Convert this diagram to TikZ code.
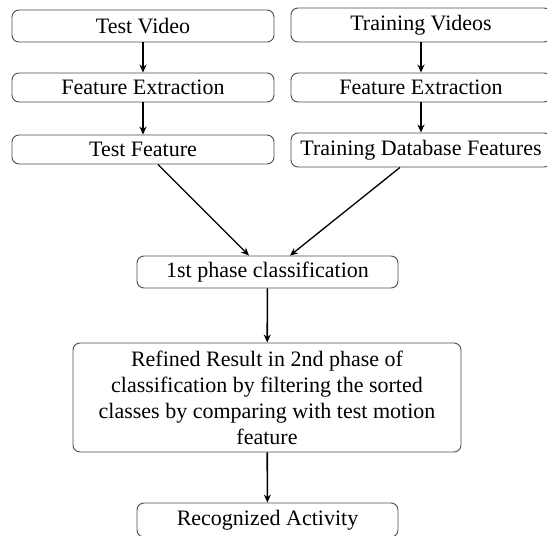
\documentclass[tikz,border=0pt]{standalone}
\usepackage{fontspec}
\setmainfont{Liberation Serif}
\usetikzlibrary{arrows.meta,calc}
\begin{document}
\begin{tikzpicture}[x=1pt,y=-1pt,
  box/.style={draw=black!70,line width=0.9pt,rounded corners=7pt,inner sep=2pt,
    font=\fontsize{22}{26}\selectfont,align=center},
  arr/.style={line width=1.6pt,-{Stealth[length=8pt,width=7pt]}},
  darr/.style={line width=1.3pt,-{Stealth[length=8pt,width=7pt]}}]
\useasboundingbox (0,0) rectangle (547,536);
\begin{scope}
\clip (0,0) rectangle (547,536);
\node[box,minimum width=262pt,minimum height=32pt] (tv) at (143,26) {Test Video};
\node[box,minimum width=260pt,minimum height=34pt] (trv) at (421,25) {Training Videos};
\node[box,minimum width=262pt,minimum height=29pt] (fe1) at (143,87.5) {Feature Extraction};
\node[box,minimum width=260pt,minimum height=29pt] (fe2) at (421,87.5) {Feature Extraction};
\node[box,minimum width=262pt,minimum height=29pt] (tf) at (143,149.5) {Test Feature};
\node[box,minimum width=260pt,minimum height=34pt] (tdb) at (421,150) {Training Database Features};
\node[box,minimum width=261pt,minimum height=32pt] (p1) at (267.5,272) {1st phase classification};
\node[box,minimum width=388pt,minimum height=109pt] (ref) at (267,397.5) {Refined Result in 2nd phase of\\classification by filtering the sorted\\classes by comparing with test motion\\feature};
\node[box,minimum width=261pt,minimum height=34pt] (rec) at (267.5,520) {Recognized Activity};
\end{scope}
\draw[arr] (tv) -- (fe1);
\draw[arr] (fe1) -- (tf);
\draw[arr] (trv) -- (fe2);
\draw[arr] (fe2) -- (tdb);
\draw[darr] ([xshift=15pt]tf.south) -- ([xshift=-18.5pt]p1.north);
\draw[darr] ([xshift=-21pt]tdb.south) -- ([xshift=22.5pt]p1.north);
\draw[arr] (p1) -- (ref);
\draw[arr] (ref) -- (rec);
\end{tikzpicture}
\end{document}
